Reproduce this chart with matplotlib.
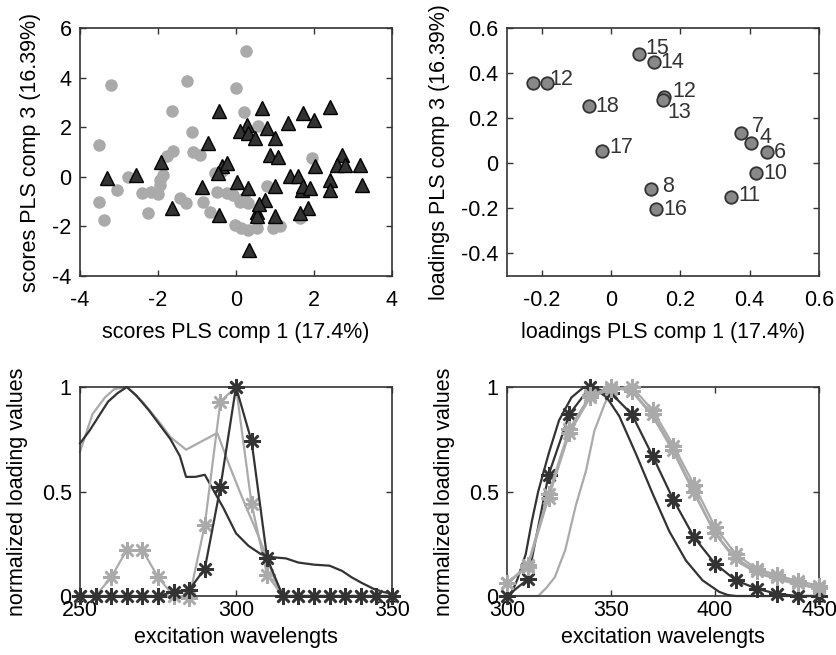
import matplotlib
matplotlib.use("Agg")
import matplotlib.pyplot as plt
import numpy as np

plt.rcParams['font.family'] = ['Liberation Sans', 'DejaVu Sans']

# ---------------- data ----------------
# Scores plot (PLS comp 1 vs comp 3)
grey_x = [0.26, -3.21, -1.26, 0.0, -1.65, 0.21, 0.57, -1.14, -3.51, -1.61, -1.78, -1.09,
          -0.92, 1.94, -2.76, -3.04, -1.95, -1.87, -2.42, -2.17, -2.0, -1.95, -3.51, -3.38,
          -2.25, -1.44, -1.27, -0.84, -0.67, -0.54, -0.5, -0.24, -0.07, 0.1, 0.32, 0.79,
          -0.03, 0.12, 0.31, 0.53, 0.96, 1.13, 1.64, -0.35, 0.2]
grey_y = [5.08, 3.71, 3.87, 3.58, 2.64, 2.6, 2.06, 1.80, 1.29, 1.05, 0.83, 1.0,
          0.88, 0.75, 0.01, -0.55, -0.12, 0.07, -0.66, -0.6, -0.7, -0.35, -1.0, -1.74,
          -1.44, -0.86, -1.06, -1.0, -1.4, 0.15, -0.6, -0.66, -0.73, -1.0, -1.06, -0.39,
          -1.94, -2.07, -2.14, -2.07, -2.07, -2.0, -1.67, 0.25, -0.85]
tri_x = [-3.32, -2.57, -1.92, -1.65, -0.71, -0.88, -0.43, -0.37, -0.24, -0.45, -0.43, 0.02,
         0.32, 0.66, 0.27, 0.1, 0.32, 0.49, 0.79, 1.0, 0.87, 1.08, 1.0, 0.74, 0.53, 0.53,
         1.0, 0.34, 1.34, 1.72, 2.01, 2.41, 1.38, 1.6, 1.68, 1.73, 1.89, 1.85, 1.64, 2.03,
         2.41, 2.41, 2.71, 2.58, 2.8, 3.18, 3.22, 0.6]
tri_y = [-0.05, 0.08, 0.58, -1.27, 1.36, -0.43, 2.64, 0.42, 0.55, 0.15, -1.53, -0.19,
         -0.46, 2.77, 2.1, 1.83, 1.77, 1.56, 1.96, 1.56, 0.89, 0.78, -0.39, -0.93, -1.4, -1.6,
         -1.6, -2.95, 2.16, 2.57, 2.28, 2.81, 0.03, 0.03, -0.53, -0.39, -0.46, -1.27, -1.47, 0.42,
         -0.12, -0.53, 0.89, 0.48, 0.48, 0.48, -0.33, -1.1]

# Loadings plot
load_x = [-0.225, -0.186, 0.080, 0.123, 0.154, 0.150, -0.064, -0.026, 0.375, 0.403, 0.450,
          0.419, 0.346, 0.115, 0.130]
load_y = [0.358, 0.358, 0.486, 0.447, 0.292, 0.280, 0.252, 0.056, 0.133, 0.089, 0.049,
          -0.044, -0.151, -0.114, -0.204]
load_lab = ["", "12", "15", "14", "12", "13", "18", "17", "7", "4", "6", "10", "11", "8", "16"]
# label offsets (points)
lab_dx = [5, 2, 5, 5, 6, 3, 5, 5, 8, 6, 5, 5, 5, 8, 5]
lab_dy = [0, 2, 4, 0, 4, -9, 0, 2, 5, 4, 0, 0, 1, 2, 0]

# Excitation loadings, left (250-350 nm)
wl_left_star = list(range(250, 351, 5))
dark_star_left = [0, 0, 0, 0, 0, 0, 0.02, 0.03, 0.13, 0.52, 1.0, 0.74, 0.18, 0, 0, 0, 0, 0, 0, 0, 0]
grey_star_left = [0, 0, 0.09, 0.22, 0.22, 0.09, 0, -0.01, 0.34, 0.93, 1.0, 0.44, 0.10, 0, 0, 0, 0, 0, 0, 0, 0]
wl_left_dark = [250, 253, 256, 259, 262, 265, 268, 272, 276, 279, 282, 284, 287, 290, 293, 296,
                300, 304, 308, 312, 316, 320, 325, 330, 334, 337, 340, 344, 347, 350]
dark_line_left = [0.73, 0.79, 0.86, 0.93, 0.97, 1.0, 0.96, 0.89, 0.81, 0.75, 0.67, 0.57, 0.57,
                  0.58, 0.50, 0.42, 0.30, 0.24, 0.20, 0.185, 0.18, 0.16, 0.15, 0.145, 0.12,
                  0.09, 0.065, 0.035, 0.02, 0.01]
wl_left_grey = [250, 254, 258, 261, 265, 270, 275, 279, 284, 289, 294, 298, 302, 306, 310, 313,
                316, 350]
grey_line_left = [0.69, 0.87, 0.95, 0.99, 1.0, 0.93, 0.84, 0.76, 0.70, 0.74, 0.78, 0.62, 0.47,
                  0.33, 0.18, 0.05, 0.0, 0.0]

# Excitation loadings, right (300-450 nm)
wl_right_star = list(range(300, 451, 10))
dark_star_right = [0, 0.08, 0.58, 0.87, 1.0, 0.97, 0.87, 0.67, 0.46, 0.28, 0.155, 0.075, 0.035, 0.01, 0.0, 0.0]
grey_star_right_a = [0.06, 0.15, 0.49, 0.80, 0.96, 1.0, 0.98, 0.87, 0.70, 0.50, 0.30, 0.18, 0.12, 0.09, 0.06, 0.04]
grey_star_right_b = [0.06, 0.14, 0.47, 0.78, 0.95, 0.99, 1.0, 0.89, 0.72, 0.53, 0.33, 0.20, 0.13, 0.10, 0.07, 0.05]
wl_right_dark = [300, 302, 305, 309, 312, 315, 320, 325, 331, 337, 341, 348, 354, 362, 370, 378,
                 386, 394, 402, 406, 410, 450]
dark_line_right = [0, 0.01, 0.08, 0.2, 0.36, 0.5, 0.68, 0.84, 0.95, 1.0, 1.0, 0.95, 0.86, 0.68,
                   0.49, 0.31, 0.17, 0.075, 0.02, 0.005, 0, 0]
wl_right_grey = [300, 315, 319, 323, 328, 333, 338, 342, 347, 350, 355, 360, 370, 380, 390, 400,
                 410, 420, 430, 440, 450]
grey_line_right = [0, 0, 0.04, 0.09, 0.22, 0.43, 0.60, 0.79, 0.92, 0.98, 1.0, 0.98, 0.86, 0.69,
                   0.49, 0.30, 0.17, 0.11, 0.08, 0.055, 0.035]

# ---------------- styling ----------------
DARK = '#333333'
GREY = '#aaaaaa'
MID = '#888888'
FS = 15.5
ast = (8, 2, 0)
MS = 12
MEW = 1.8

fig = plt.figure(figsize=(8.36, 6.55), dpi=100)

def style(ax, xpad, ypad=6):
    for s in ax.spines.values():
        s.set_color(DARK)
        s.set_linewidth(1.2)
    ax.tick_params(direction='in', length=4, width=1, colors=DARK, top=True, right=True,
                   labelsize=FS, labelcolor='black')
    ax.tick_params(axis='x', pad=xpad)
    ax.tick_params(axis='y', pad=ypad)

def fmt(v):
    return '%g' % v

# Top-left: scores
ax1 = fig.add_axes([80/836, 1-276/655, 312/836, 248/655])
ax1.plot(grey_x, grey_y, 'o', color=GREY, mec=GREY, ms=8, zorder=2)
ax1.plot(tri_x, tri_y, '^', color=DARK, mec='black', ms=10, mew=1, zorder=3)
ax1.set_xlim(-4, 4)
ax1.set_ylim(-4, 6)
ax1.set_xticks([-4, -2, 0, 2, 4])
ax1.set_yticks([-4, -2, 0, 2, 4, 6])
ax1.set_xticklabels([fmt(v) for v in [-4, -2, 0, 2, 4]])
ax1.set_yticklabels([fmt(v) for v in [-4, -2, 0, 2, 4, 6]])
style(ax1, 10)
ax1.set_xlabel('scores PLS comp 1 (17.4%)', fontsize=FS, labelpad=8)
ax1.set_ylabel('scores PLS comp 3 (16.39%)', fontsize=FS, labelpad=8)

# Top-right: loadings
ax2 = fig.add_axes([507/836, 1-276/655, 312/836, 248/655])
ax2.plot(load_x, load_y, 'o', color=MID, mec=DARK, ms=9, mew=1.3, zorder=3)
for x, y, t, dx, dy in zip(load_x, load_y, load_lab, lab_dx, lab_dy):
    if t:
        ax2.annotate(t, (x, y), xytext=(dx, dy), textcoords='offset points', fontsize=FS,
                     ha='left', va='center', color='#333333', zorder=2)
ax2.set_xlim(-0.3, 0.6)
ax2.set_ylim(-0.5, 0.6)
xt2 = [-0.2, 0, 0.2, 0.4, 0.6]
yt2 = [-0.4, -0.2, 0, 0.2, 0.4, 0.6]
ax2.set_xticks(xt2)
ax2.set_yticks(yt2)
ax2.set_xticklabels([fmt(v) for v in xt2])
ax2.set_yticklabels([fmt(v) for v in yt2])
style(ax2, 10)
ax2.set_xlabel('loadings PLS comp 1 (17.4%)', fontsize=FS, labelpad=8)
ax2.set_ylabel('loadings PLS comp 3 (16.39%)', fontsize=FS, labelpad=8)

# Bottom-left
ax3 = fig.add_axes([80/836, 1-596/655, 312/836, 209/655])
ax3.plot(wl_left_grey, grey_line_left, '-', color=GREY, lw=1.6, clip_on=False, zorder=2)
ax3.plot(wl_left_dark, dark_line_left, '-', color=DARK, lw=1.6, clip_on=False, zorder=3)
ax3.plot(wl_left_star, grey_star_left, '-', color=GREY, lw=1.6, marker=ast, ms=MS, mew=MEW,
         clip_on=False, zorder=4)
ax3.plot(wl_left_star, dark_star_left, '-', color=DARK, lw=1.6, marker=ast, ms=MS, mew=MEW,
         clip_on=False, zorder=5)
ax3.set_xlim(250, 350)
ax3.set_ylim(0, 1)
ax3.set_xticks([250, 300, 350])
ax3.set_yticks([0, 0.5, 1])
ax3.set_yticklabels(['0', '0.5', '1'])
style(ax3, 3)
ax3.set_xlabel('excitation wavelengts', fontsize=FS, labelpad=4)
ax3.set_ylabel('normalized loading values', fontsize=FS, labelpad=10)

# Bottom-right
ax4 = fig.add_axes([507/836, 1-596/655, 312/836, 209/655])
ax4.plot(wl_right_grey, grey_line_right, '-', color=GREY, lw=1.6, clip_on=False, zorder=2)
ax4.plot(wl_right_dark, dark_line_right, '-', color=DARK, lw=1.6, clip_on=False, zorder=3)
ax4.plot(wl_right_star, dark_star_right, '-', color=DARK, lw=1.6, marker=ast, ms=MS, mew=MEW,
         clip_on=False, zorder=4)
ax4.plot(wl_right_star, grey_star_right_b, '-', color=GREY, lw=1.6, marker=ast, ms=MS, mew=MEW,
         clip_on=False, zorder=5)
ax4.plot(wl_right_star, grey_star_right_a, '-', color=GREY, lw=1.6, marker=ast, ms=MS, mew=MEW,
         clip_on=False, zorder=5)
ax4.set_xlim(300, 450)
ax4.set_ylim(0, 1)
ax4.set_xticks([300, 350, 400, 450])
ax4.set_yticks([0, 0.5, 1])
ax4.set_yticklabels(['0', '0.5', '1'])
style(ax4, 3)
ax4.set_xlabel('excitation wavelengts', fontsize=FS, labelpad=4)
ax4.set_ylabel('normalized loading values', fontsize=FS, labelpad=10)

fig.savefig('out.png', dpi=100)
